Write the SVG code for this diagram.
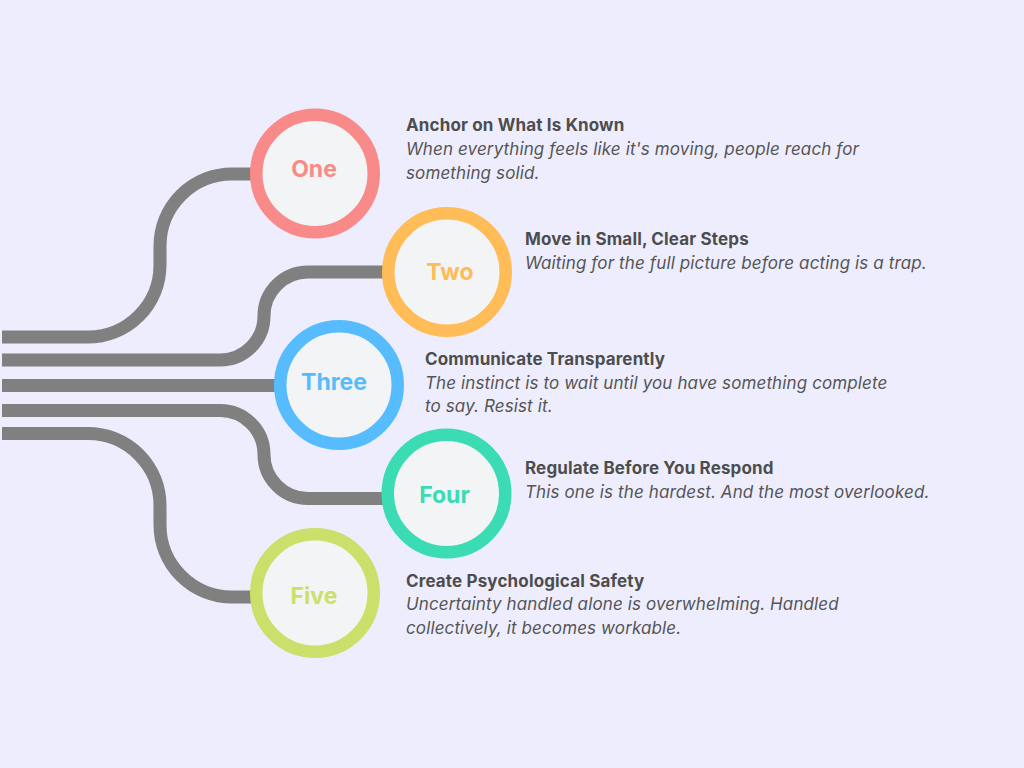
<svg xmlns="http://www.w3.org/2000/svg" width="1024" height="768" viewBox="0 0 1024 768">
<style>
.bg{fill:#EEEDFE}
.ln{fill:none;stroke:#808080;stroke-width:13}
.c{fill:#F3F4F6;stroke-width:12.5}
.lab{font-family:Inter,"Noto Sans",sans-serif;font-weight:700;font-size:23px;text-anchor:middle}
.t{font-family:Inter,"Noto Sans",sans-serif;font-weight:700;font-size:17px;letter-spacing:0.15px;fill:#4D4D4D}
.d{font-family:Inter,"Noto Sans",sans-serif;font-style:italic;font-size:17px;letter-spacing:0.12px;fill:#555555}
</style>
<rect class="bg" x="0" y="0" width="1024" height="768"/>
<g id="connectors">
<path class="ln" d="M2 337 H88 A72 72 0 0 0 160 265 V246 A72 72 0 0 1 232 174 H260"/>
<path class="ln" d="M2 360 H220 A44 44 0 0 0 264 316 A44 44 0 0 1 308 272 H390"/>
<path class="ln" d="M2 385.5 H285"/>
<path class="ln" d="M2 410.5 H220 A44 44 0 0 1 264 454.5 A44 44 0 0 0 308 498.5 H390"/>
<path class="ln" d="M2 433.5 H88 A72 72 0 0 1 160 505.5 V525 A72 72 0 0 0 232 597 H260"/>
</g>
<g id="node-one">
<circle class="c" cx="315" cy="173.5" r="58.75" stroke="#F88A8A"/>
<text class="lab" x="314" y="177" fill="#F88A8A">One</text>
<text class="t" x="406" y="131">Anchor on What Is Known</text>
<text class="d" x="406" y="155">When everything feels like it's moving, people reach for</text>
<text class="d" x="406" y="178.5">something solid.</text>
</g>
<g id="node-two">
<circle class="c" cx="447" cy="272" r="58.75" stroke="#FFBC57"/>
<text class="lab" x="450" y="280" fill="#FFBC57">Two</text>
<text class="t" x="525" y="245">Move in Small, Clear Steps</text>
<text class="d" x="525" y="269">Waiting for the full picture before acting is a trap.</text>
</g>
<g id="node-three">
<circle class="c" cx="339" cy="385" r="58.75" stroke="#57BCFE"/>
<text class="lab" x="334" y="390" fill="#57BCFE">Three</text>
<text class="t" x="425" y="365">Communicate Transparently</text>
<text class="d" x="425" y="388.5">The instinct is to wait until you have something complete</text>
<text class="d" x="425" y="412">to say. Resist it.</text>
</g>
<g id="node-four">
<circle class="c" cx="446.5" cy="493.5" r="58.75" stroke="#3BDBB4"/>
<text class="lab" x="444.5" y="502.5" fill="#3BDBB4">Four</text>
<text class="t" x="525" y="474">Regulate Before You Respond</text>
<text class="d" x="525" y="498">This one is the hardest. And the most overlooked.</text>
</g>
<g id="node-five">
<circle class="c" cx="315" cy="593" r="58.75" stroke="#CBE06A"/>
<text class="lab" x="314" y="604" fill="#CBE06A">Five</text>
<text class="t" x="406" y="587">Create Psychological Safety</text>
<text class="d" x="406" y="610">Uncertainty handled alone is overwhelming. Handled</text>
<text class="d" x="406" y="633.5">collectively, it becomes workable.</text>
</g>
</svg>
